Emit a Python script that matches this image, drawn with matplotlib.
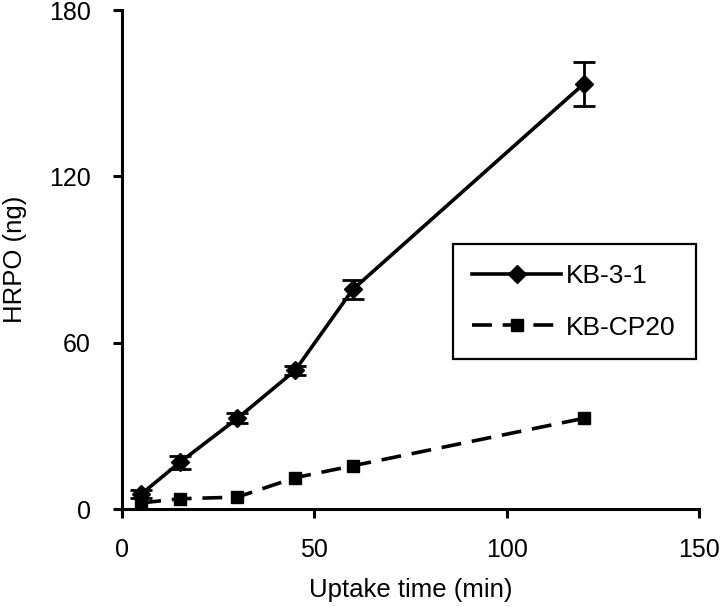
import matplotlib.pyplot as plt

# data
time_min = [5, 15, 30, 45, 60, 120]
kb31 = [5.4, 16.8, 32.7, 50.0, 79.2, 153.3]
kb31_err = [1.5, 2.5, 1.8, 1.5, 3.5, 8.0]
cp20 = [2.2, 3.7, 4.3, 11.3, 15.6, 32.7]
cp20_err = [0.8, 0.8, 0.8, 1.0, 1.0, 1.2]

x_ticks = [0, 50, 100, 150]
y_ticks = [0, 60, 120, 180]

plt.rcParams['font.family'] = ['Liberation Sans', 'DejaVu Sans']

fig = plt.figure(figsize=(7.22, 6.07), dpi=100)
ax = fig.add_axes([0.169, 0.1614, 0.799, 0.822])

# error bars drawn separately so the legend shows only line + marker
ax.errorbar(time_min, kb31, yerr=kb31_err, fmt='none', ecolor='black',
            capsize=8, capthick=2, elinewidth=2)
ax.errorbar(time_min, cp20, yerr=cp20_err, fmt='none', ecolor='black',
            capsize=0, elinewidth=1.5)
ax.plot(time_min, kb31, color='black', lw=2.6, marker='D', markersize=9,
        label='KB-3-1')
ax.plot(time_min, cp20, color='black', lw=2.6, linestyle=(0, (5.5, 3)),
        marker='s', markersize=9, label='KB-CP20')

ax.set_xlim(0, 150)
ax.set_ylim(0, 180)
ax.set_xticks(x_ticks)
ax.set_yticks(y_ticks)
ax.spines['top'].set_visible(False)
ax.spines['right'].set_visible(False)
ax.spines['left'].set_linewidth(2.2)
ax.spines['bottom'].set_linewidth(2.2)
ax.tick_params(direction='out', length=6.5, width=2.2, labelsize=18)
ax.tick_params(axis='x', pad=14)
ax.tick_params(axis='y', pad=16)

ax.set_xlabel('Uptake time (min)', fontsize=18.5, labelpad=12)
ax.set_ylabel('HRPO (ng)', fontsize=18.5, labelpad=16)

leg = ax.legend(loc='upper left', bbox_to_anchor=(0.627, 0.598),
                bbox_transform=fig.transFigure, fontsize=19, frameon=True,
                fancybox=False, edgecolor='black', borderaxespad=0,
                handlelength=3.35, handletextpad=0.2, labelspacing=1.05,
                borderpad=0.75)
leg.get_frame().set_linewidth(1.6)
leg.get_frame().set_alpha(1)

fig.savefig('out.png', dpi=100)
